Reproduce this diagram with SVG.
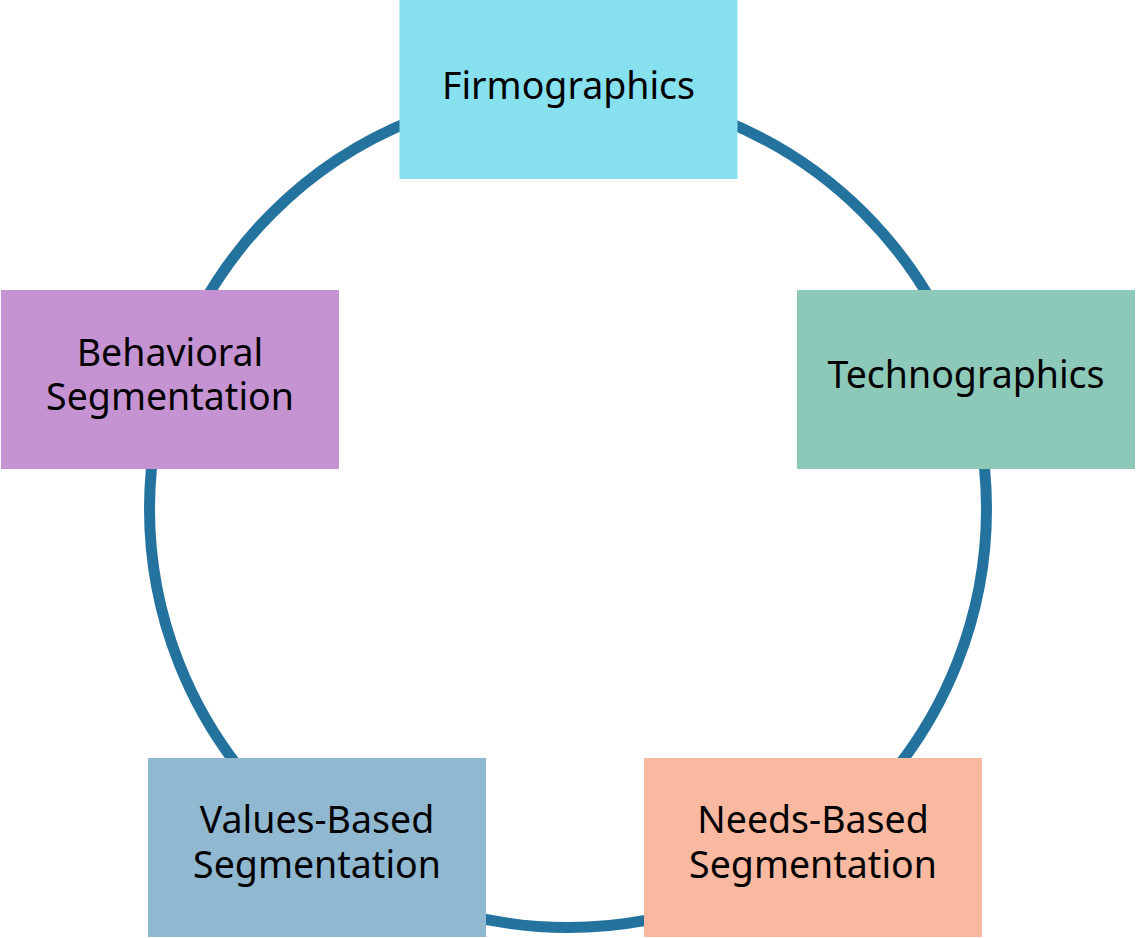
<svg xmlns="http://www.w3.org/2000/svg" width="1136" height="938" viewBox="0 0 1136 938">
<style>
.lbl{font-family:"Noto Sans","Open Sans","Liberation Sans",sans-serif;font-size:37.5px;fill:#000;text-anchor:middle}
.ring{fill:none;stroke:#24739f;stroke-width:11}
</style>
<rect width="1136" height="938" fill="#fff"/>
<g id="connectors">
<circle class="ring" cx="568" cy="509" r="418.5"/>
</g>
<g id="firmographics">
<rect x="399.5" y="0" width="338" height="179" fill="#86e0ee"/>
<text class="lbl" x="568.5" y="99">Firmographics</text>
</g>
<g id="technographics">
<rect x="797" y="290" width="338" height="179" fill="#8dc9b9"/>
<text class="lbl" x="966" y="388">Technographics</text>
</g>
<g id="behavioral">
<rect x="1" y="290" width="338" height="179" fill="#c593d1"/>
<text class="lbl" x="170" y="366">Behavioral</text>
<text class="lbl" x="170" y="410">Segmentation</text>
</g>
<g id="values">
<rect x="148" y="758" width="338" height="179" fill="#90b8d0"/>
<text class="lbl" x="317" y="833">Values-Based</text>
<text class="lbl" x="317" y="878">Segmentation</text>
</g>
<g id="needs">
<rect x="644" y="758" width="338" height="179" fill="#f9b9a0"/>
<text class="lbl" x="813" y="833">Needs-Based</text>
<text class="lbl" x="813" y="878">Segmentation</text>
</g>
</svg>
